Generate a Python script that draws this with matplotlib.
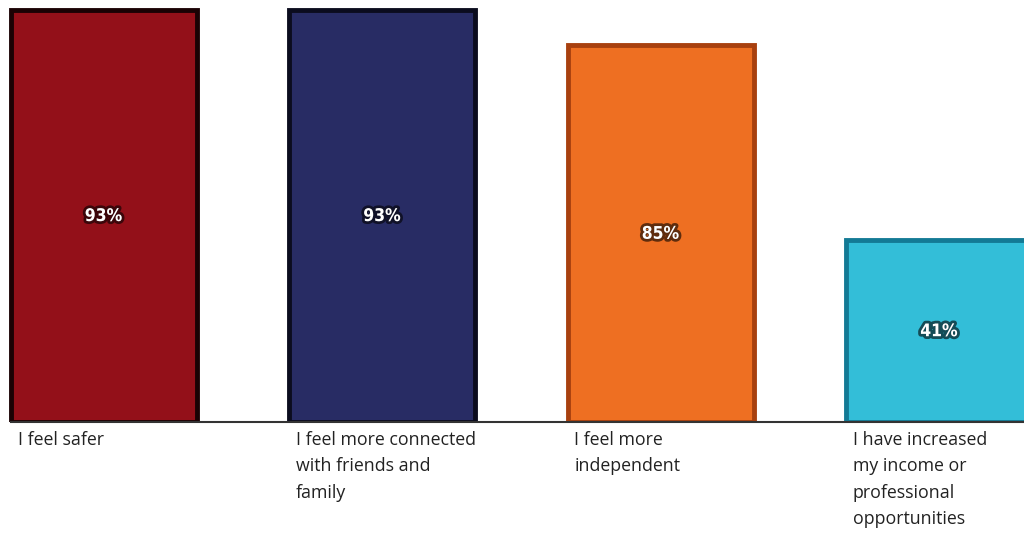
import matplotlib
matplotlib.use("Agg")
import matplotlib.pyplot as plt
import matplotlib.patheffects as pe

categories = ["I feel safer",
              "I feel more connected\nwith friends and\nfamily",
              "I feel more\nindependent",
              "I have increased\nmy income or\nprofessional\nopportunities"]
values = [93, 93, 85, 41]
labels = ["93%", "93%", "85%", "41%"]
colors = ["#931019", "#282C64", "#EE6F22", "#33BED8"]
edges = ["#1a0204", "#0b0c1e", "#a8400f", "#137a95"]

W, H = 1024, 537
fig = plt.figure(figsize=(W / 100, H / 100), dpi=100)
base_px = 422
ax = fig.add_axes([0, (H - base_px) / H, 1, base_px / H])

spacing = 278.5
width = 186 / spacing
c0 = 103.5
xl = -c0 / spacing
xr = xl + W / spacing
ax.set_xlim(xl, xr)
ppu = 412 / 93
ax.set_ylim(0, base_px / ppu)

x = list(range(len(values)))
ax.bar(x, values, width=width, color=colors, edgecolor=edges, linewidth=3.5, zorder=2)

for xi, v, lab in zip(x, values, labels):
    ax.text(xi, v / 2, lab, ha="center", va="center", color="white",
            fontsize=12.5, fontweight="bold", family="DejaVu Sans",
            fontstretch="condensed",
            path_effects=[pe.withStroke(linewidth=4, foreground="#000000", alpha=0.6)],
            zorder=3)

for xi, cat in zip(x, categories):
    ax.text(xi - width / 2 + 7 / spacing, -9 / ppu, cat, ha="left", va="top",
            fontsize=12.8, family="Open Sans", color="#222222",
            linespacing=1.6, clip_on=False)

for s in ["top", "right", "left"]:
    ax.spines[s].set_visible(False)
ax.spines["bottom"].set_color("#333333")
ax.spines["bottom"].set_linewidth(1.5)
ax.spines["bottom"].set_bounds(-width / 2, xr)
ax.set_xticks([])
ax.set_yticks([])
ax.patch.set_alpha(0)

fig.savefig("out.png", dpi=100, facecolor="white")
